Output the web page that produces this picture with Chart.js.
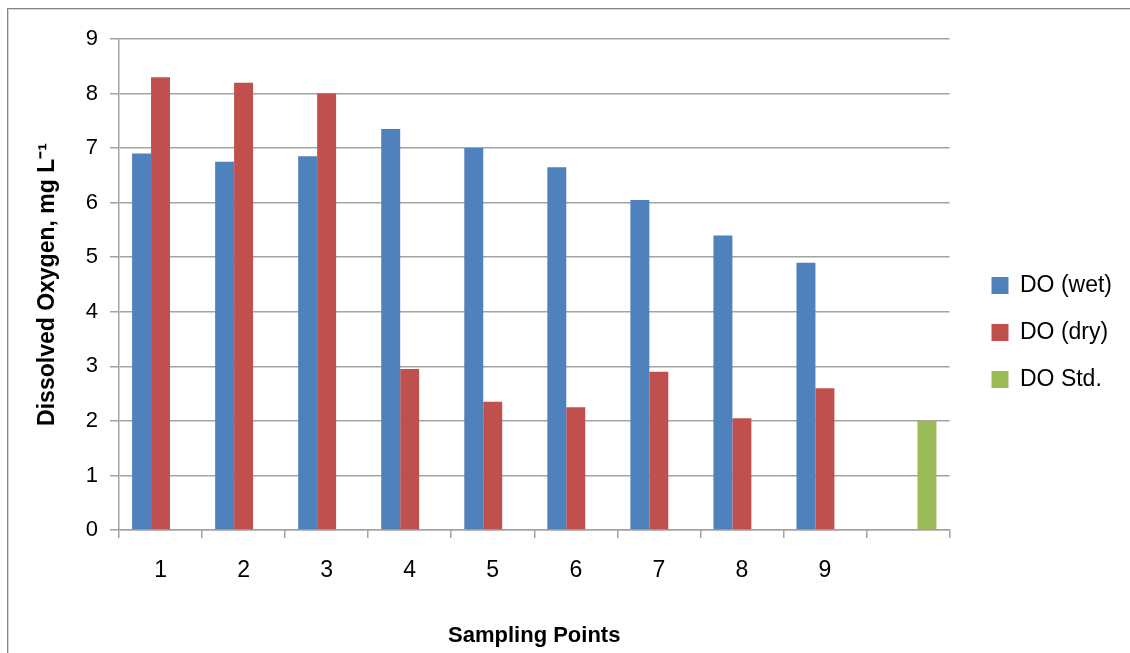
<!DOCTYPE html>
<html>
<head>
<meta charset="utf-8">
<script src="https://cdn.jsdelivr.net/npm/chart.js@4/dist/chart.umd.min.js"></script>
<style>
  html, body { margin: 0; padding: 0; background: #ffffff; }
  #wrap { position: relative; width: 1130px; height: 653px; overflow: hidden; }
  #frame {
    position: absolute; left: 7px; top: 8px; right: -10px; bottom: -10px;
    border-left: 1px solid #858585; border-top: 1px solid #858585;
    box-shadow: inset 1px 1px 0 #d4d4d4;
  }
  canvas { position: absolute; left: 0; top: 0; }
</style>
</head>
<body>
<div id="wrap">
  <div id="frame"></div>
  <canvas id="chart" width="1130" height="653"></canvas>
</div>
<script>
// Sampling points along the river (the last slot holds the standard)
const categories = ['1', '2', '3', '4', '5', '6', '7', '8', '9', ''];

// Dissolved oxygen, mg/L
const doWet = [6.9, 6.75, 6.85, 7.35, 7.0, 6.65, 6.05, 5.4, 4.9, null];
const doDry = [8.3, 8.2, 8.0, 2.95, 2.35, 2.25, 2.9, 2.05, 2.6, null];
const doStd = [null, null, null, null, null, null, null, null, null, 2.0];

const seriesNames = ['DO (wet)', 'DO (dry)', 'DO Std.'];

// Value axis range
const yMin = 0;
const yMax = 9;
const yStep = 1;

const regularFont = "'Liberation Sans', Arial, sans-serif";
const gridColor = '#a3a3a3';

new Chart(document.getElementById('chart'), {
  type: 'bar',
  data: {
    labels: categories,
    datasets: [
      { label: seriesNames[0], data: doWet, backgroundColor: '#4F81BD' },
      { label: seriesNames[1], data: doDry, backgroundColor: '#C0504D' },
      { label: seriesNames[2], data: doStd, backgroundColor: '#9BBB59' }
    ]
  },
  options: {
    responsive: false,
    animation: false,
    devicePixelRatio: 1,
    layout: { padding: { top: 39, right: 8, bottom: 0, left: 0 } },
    datasets: {
      bar: { categoryPercentage: 0.685, barPercentage: 1.0, borderWidth: 0 }
    },
    plugins: {
      tooltip: { enabled: false },
      legend: {
        position: 'right',
        align: 'center',
        fullSize: false,
        title: { display: true, text: '', font: { size: 10 }, padding: { top: 84, bottom: 0 } },
        labels: {
          boxWidth: 17,
          boxHeight: 17,
          padding: 24,
          color: '#000000',
          font: { family: regularFont, size: 23 }
        }
      }
    },
    scales: {
      x: {
        offset: true,
        grid: {
          display: true,
          offset: true,
          drawOnChartArea: false,
          drawTicks: true,
          tickLength: 8,
          color: gridColor,
          lineWidth: 1.5
        },
        border: { display: true, color: gridColor, width: 1.5 },
        ticks: {
          color: '#000000',
          padding: 19,
          maxRotation: 0,
          font: { family: regularFont, size: 23 }
        },
        title: {
          display: true,
          text: 'Sampling Points',
          color: '#000000',
          padding: { top: 0, bottom: 4 },
          font: { family: regularFont, size: 22, weight: 'bold' }
        },
        afterFit(scale) { scale.height = 123; }
      },
      y: {
        min: yMin,
        max: yMax,
        grid: {
          color: gridColor,
          lineWidth: 1.5,
          drawTicks: true,
          tickLength: 9
        },
        border: { display: true, color: gridColor, width: 1.5 },
        ticks: {
          stepSize: yStep,
          color: '#000000',
          padding: 12,
          font: { family: regularFont, size: 22 }
        },
        title: {
          display: true,
          text: 'Dissolved Oxygen, mg L\u207B\u00B9',
          color: '#000000',
          padding: { top: 34, bottom: 0 },
          font: { family: regularFont, size: 23, weight: 'bold' }
        },
        afterFit(scale) { scale.width = 119; }
      },
      gap: {
        type: 'linear',
        position: 'right',
        display: true,
        grid: { display: false },
        border: { display: false },
        ticks: { display: false },
        afterFit(scale) { scale.width = 18; }
      }
    }
  }
});
</script>
</body>
</html>
